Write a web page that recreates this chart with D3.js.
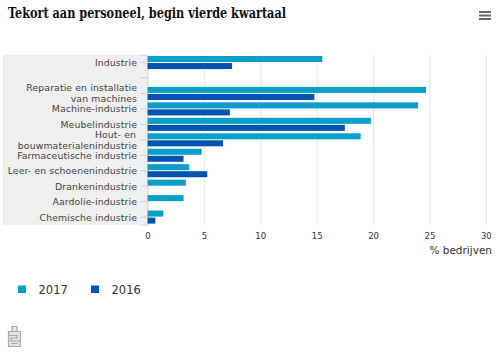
<!DOCTYPE html>
<html>
<head>
<meta charset="utf-8">
<script src="https://cdn.jsdelivr.net/npm/d3@7"></script>
<style>
    html, body { margin: 0; padding: 0; background: #fff; }
    svg { display: block; }
    text { font-family: "DejaVu Sans", sans-serif; }
</style>
</head>
<body>
<svg id="chart" width="500" height="361"></svg>
<script>
// values
var categories = [
    "Industrie", "", "Reparatie en installatie|van machines", "Machine-industrie",
    "Meubelindustrie", "Hout- en|bouwmaterialenindustrie", "Farmaceutische industrie",
    "Leer- en schoenenindustrie", "Drankenindustrie", "Aardolie-industrie", "Chemische industrie"
];
var values2017 = [15.5, null, 24.7, 24.0, 19.8, 18.9, 4.8, 3.7, 3.4, 3.2, 1.4];
var values2016 = [7.5, null, 14.8, 7.3, 17.5, 6.7, 3.2, 5.3, null, null, 0.7];
var xTicks = [0, 5, 10, 15, 20, 25, 30];
var seriesNames = ["2017", "2016"];
var seriesColors = ["#0a9fca", "#0353b0"];

var svg = d3.select("#chart");

var plotLeft = 147.5, plotRight = 485.8, plotTop = 54.8, plotBottom = 224.8;

var x = d3.scaleLinear().domain([0, 30]).range([plotLeft, plotRight]);
var y = d3.scaleBand().domain(d3.range(categories.length)).range([plotTop, plotBottom]);
var inner = d3.scaleBand().domain([0, 1]).range([0, y.bandwidth()]).paddingInner(0.14).paddingOuter(0.17);

// title
svg.append("text")
    .attr("x", 8)
    .attr("y", 17.5)
    .attr("font-size", 14)
    .attr("font-weight", "bold")
    .attr("fill", "#111")
    .style("font-family", "'DejaVu Serif', serif")
    .style("font-stretch", "condensed")
    .attr("textLength", 278)
    .attr("lengthAdjust", "spacingAndGlyphs")
    .text("Tekort aan personeel, begin vierde kwartaal");

// menu icon, top right
svg.append("g").selectAll("rect")
    .data([0, 1, 2])
    .enter().append("rect")
        .attr("x", 479)
        .attr("y", function (d) { return 11 + d * 3.5; })
        .attr("width", 12)
        .attr("height", 2)
        .attr("fill", "#666");

// gray band behind the labels
svg.append("rect")
    .attr("x", 3)
    .attr("y", plotTop)
    .attr("width", plotLeft - 3)
    .attr("height", plotBottom - plotTop)
    .attr("fill", "#efefef");

// grid lines
var xAxis = svg.append("g")
    .attr("transform", "translate(0," + plotBottom + ")")
    .call(d3.axisBottom(x).tickValues(xTicks).tickSize(plotTop - plotBottom).tickFormat(d3.format("d")));
xAxis.select(".domain").remove();
xAxis.selectAll("line").attr("stroke", "#e6e6e6");
xAxis.selectAll("text")
    .attr("dy", null)
    .attr("y", 14)
    .attr("font-size", 8.5)
    .attr("fill", "#333");

// category axis
var yAxis = svg.append("g")
    .attr("transform", "translate(" + plotLeft + ",0)")
    .call(d3.axisLeft(y).tickSize(7).tickFormat(""));
yAxis.select(".domain").attr("stroke", "#d8d8d8");
yAxis.selectAll("line").attr("stroke", "#ccd0d4");
yAxis.selectAll("text").remove();

var labels = svg.append("g").selectAll("text")
    .data(categories)
    .enter().append("text")
        .attr("text-anchor", "end")
        .attr("font-size", 9.3)
        .attr("letter-spacing", 0.12)
        .attr("fill", "#444");

labels.each(function (d, i) {
    var lines = d.split("|");
    var cy = y(i) + y.bandwidth() / 2;
    var label = d3.select(this);
    lines.forEach(function (line, k) {
        label.append("tspan")
            .attr("x", i === 5 && k === 0 ? 136 : 137)
            .attr("y", cy + 3.5 + (k - (lines.length - 1) / 2) * 11)
            .text(line);
    });
});

// bars
[values2017, values2016].forEach(function (values, s) {
    svg.append("g").selectAll("rect")
        .data(values)
        .enter().append("rect")
            .attr("x", x(0))
            .attr("y", function (d, i) { return y(i) + inner(s); })
            .attr("height", inner.bandwidth())
            .attr("width", function (d) { return d === null ? 0 : x(d) - x(0); })
            .attr("fill", seriesColors[s]);
});

// axis title
svg.append("text")
    .attr("x", 492)
    .attr("y", 253.5)
    .attr("text-anchor", "end")
    .attr("font-size", 10.5)
    .attr("fill", "#333")
    .text("% bedrijven");

// legend
var legendX = d3.scalePoint().domain(seriesNames).range([18, 91]);
var legend = svg.append("g").selectAll("g")
    .data(seriesNames)
    .enter().append("g")
        .attr("transform", function (d) { return "translate(" + legendX(d) + ",285.5)"; });
legend.append("rect")
    .attr("width", 8)
    .attr("height", 7.5)
    .attr("fill", function (d, i) { return seriesColors[i]; });
legend.append("text")
    .attr("x", 20.5)
    .attr("y", 8)
    .attr("font-size", 11.5)
    .attr("fill", "#333")
    .text(function (d) { return d; });

// small gray icon, bottom left
var icon = svg.append("g")
    .attr("transform", "translate(8,326)")
    .attr("fill", "#e4e4e4")
    .attr("stroke", "#aaa")
    .attr("stroke-width", 1.2);
icon.append("path").attr("d", "M0.5,5.5 H4 V0.5 H9 V5.5 H12.5 V20.5 H0.5 Z");
icon.append("path").attr("fill", "none").attr("d", "M4,5.5 H9 M0.5,9.5 H9 V12 H3 V15 H12.5 M3,17.5 H10");
</script>
</body>
</html>
